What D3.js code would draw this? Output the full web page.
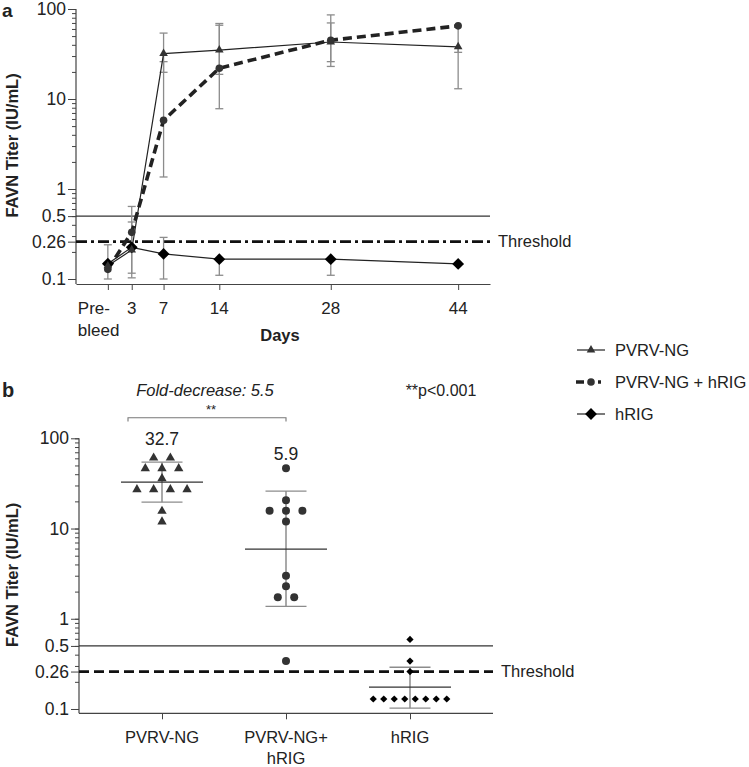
<!DOCTYPE html>
<html>
<head>
<meta charset="utf-8" />
<title>FAVN titers</title>
<script src="https://cdn.jsdelivr.net/npm/d3@7/dist/d3.min.js"></script>
<style>
	body { margin: 0; background: #fff; }
	svg text { font-family: "Liberation Sans", Arial, sans-serif; fill: #222; }
</style>
</head>
<body>
<div id="chart"></div>
<script>

// ---- panel a : kinetics ----
const days = [0, 3, 7, 14, 28, 44];
const dayLabels = [["Pre-", "bleed"], ["3"], ["7"], ["14"], ["28"], ["44"]];

const pvrvMean = [0.14, 0.21, 32, 35, 43, 38];
const pvrvLow  = [null, 0.103, 19.8, 18.8, 23, 13];
const pvrvHigh = [null, 0.43, 54, 69, 70, null];

const comboMean = [0.128, 0.33, 5.8, 22, 45, 65];
const comboLow  = [null, 0.116, 1.36, 7.8, 26, 33];
const comboHigh = [null, 0.64, 26, 66, 86, null];

const hrigMean = [0.148, 0.225, 0.19, 0.166, 0.166, 0.147];
const hrigLow  = [0.1, null, 0.1, 0.11, 0.11, null];
const hrigHigh = [0.24, null, 0.29, null, null, null];

const yLabelTicks = [0.1, 0.26, 0.5, 1, 10, 100];
const threshold = 0.26;
const protective = 0.5;

const legendNames = ["PVRV-NG", "PVRV-NG + hRIG", "hRIG"];

// ---- panel b : day 7 individual titers ----
const groups = ["PVRV-NG", "PVRV-NG+hRIG", "hRIG"];
const groupLabels = [["PVRV-NG"], ["PVRV-NG+", "hRIG"], ["hRIG"]];
const pvrvPoints = [60.7, 60.7, 46.3, 46.3, 46.3, 35.9, 27.1, 27.1, 27.1, 27.1, 15.6, 11.9];
const comboPoints = [46.7, 20.6, 15.7, 15.7, 15.7, 12.0, 3.0, 2.29, 1.73, 1.73, 0.34];
const hrigPoints = [0.59, 0.34, 0.26, 0.129, 0.129, 0.129, 0.129, 0.129, 0.129, 0.129, 0.129];
const groupMeans = [32.7, 5.9, 0.175];
const groupLow = [19.6, 1.37, 0.102];
const groupHigh = [54.4, 26, 0.29];
const meanLabels = ["32.7", "5.9", ""];

const W = 749, H = 767;
const svg = d3.select("#chart").append("svg")
	.attr("width", W).attr("height", H);

const axisColor = "#444";
const errColor = "#8c8c8c";
const markColor = "#333";

// symbol helpers
const tri = s => d3.symbol().type(d3.symbolTriangle).size(s)();
const sq = s => d3.symbol().type(d3.symbolSquare).size(s)();

function drawLogAxis(g, y, x0, labelX) {
	// minor ticks
	let minor = y.ticks().filter(v => v >= 0.0999);
	g.append("g")
		.attr("transform", `translate(${x0},0)`)
		.call(d3.axisLeft(y).tickValues(minor).tickFormat("").tickSize(4).tickSizeOuter(0))
		.call(a => a.select(".domain").remove())
		.call(a => a.selectAll("line").attr("stroke", axisColor));
	g.append("g")
		.attr("transform", `translate(${x0},0)`)
		.call(d3.axisLeft(y).tickValues(yLabelTicks).tickFormat(d => d).tickSize(8).tickPadding(2).tickSizeOuter(0))
		.call(a => a.select(".domain").remove())
		.call(a => a.selectAll("line").attr("stroke", axisColor))
		.call(a => a.selectAll("text").style("font-size", "17.5px").attr("fill", "#222"));
	let r = y.range();
	g.append("line")
		.attr("x1", x0).attr("x2", x0)
		.attr("y1", r[1]).attr("y2", r[0])
		.attr("stroke", axisColor).attr("stroke-width", 1.2);
	g.append("text")
		.attr("transform", `translate(${labelX},${(r[0] + r[1]) / 2 - 1}) rotate(-90)`)
		.attr("text-anchor", "middle")
		.attr("dy", "0.35em")
		.style("font-size", "16.5px")
		.style("font-weight", "bold")
		.text("FAVN Titer (IU/mL)");
}

function refLines(g, y, x1, x2, dash) {
	g.append("line")
		.attr("x1", x1).attr("x2", x2)
		.attr("y1", y(protective)).attr("y2", y(protective))
		.attr("stroke", "#333").attr("stroke-width", 1.3);
	g.append("line")
		.attr("x1", x1).attr("x2", x2)
		.attr("y1", y(threshold)).attr("y2", y(threshold))
		.attr("stroke", "#111").attr("stroke-width", 2.8)
		.attr("stroke-dasharray", dash);
	g.append("text")
		.attr("x", x2 + 8).attr("y", y(threshold))
		.attr("dy", "0.35em")
		.style("font-size", "16.5px")
		.text("Threshold");
}

// =================== panel a ===================
const ga = svg.append("g");
const xa = d3.scaleLinear().domain([-4, 48]).range([76, 490]);
const ya = d3.scaleLog().domain([0.088, 100]).range([284, 9]);

ga.append("text").attr("x", 2).attr("y", 17)
	.style("font-size", "19px").style("font-weight", "bold").text("a");

drawLogAxis(ga, ya, 76, 12);

// x axis
ga.append("g")
	.attr("transform", "translate(0,284)")
	.call(d3.axisBottom(xa).tickValues(days).tickFormat("").tickSize(6).tickSizeOuter(0))
	.call(a => a.select(".domain").attr("stroke", axisColor).attr("stroke-width", 1.2))
	.call(a => a.selectAll("line").attr("stroke", axisColor));

days.forEach((d, i) => {
	let lines = dayLabels[i];
	let t = ga.append("text")
		.attr("x", lines.length > 1 ? xa(d) - 30 : xa(d))
		.attr("y", 314)
		.attr("text-anchor", lines.length > 1 ? "start" : "middle")
		.style("font-size", "17px");
	lines.forEach((l, j) => {
		t.append("tspan").attr("x", lines.length > 1 ? xa(d) - 30 : xa(d))
			.attr("dy", j === 0 ? 0 : 22).text(l);
	});
});
ga.append("text").attr("x", 280).attr("y", 341)
	.attr("text-anchor", "middle")
	.style("font-size", "16.5px").style("font-weight", "bold").text("Days");

refLines(ga, ya, 76, 490, "11,4,3,4");

// error bars
function errBars(g, mean, low, high) {
	days.forEach((d, i) => {
		let lo = low[i] == null ? mean[i] : low[i];
		let hi = high[i] == null ? mean[i] : high[i];
		if (lo === hi) return;
		g.append("line")
			.attr("x1", xa(d)).attr("x2", xa(d))
			.attr("y1", ya(lo)).attr("y2", ya(hi))
			.attr("stroke", errColor).attr("stroke-width", 1.3);
		[low[i], high[i]].forEach(v => {
			if (v == null) return;
			g.append("line")
				.attr("x1", xa(d) - 4).attr("x2", xa(d) + 4)
				.attr("y1", ya(v)).attr("y2", ya(v))
				.attr("stroke", errColor).attr("stroke-width", 1.3);
		});
	});
}
errBars(ga, pvrvMean, pvrvLow, pvrvHigh);
errBars(ga, comboMean, comboLow, comboHigh);
errBars(ga, hrigMean, hrigLow, hrigHigh);

const lineA = vals => d3.line()
	.x((d, i) => xa(days[i]))
	.y(d => ya(d))(vals);

ga.append("path").attr("d", lineA(hrigMean))
	.attr("fill", "none").attr("stroke", "#222").attr("stroke-width", 1.2);
ga.append("path").attr("d", lineA(pvrvMean))
	.attr("fill", "none").attr("stroke", "#222").attr("stroke-width", 1.2);
ga.append("path").attr("d", lineA(comboMean))
	.attr("fill", "none").attr("stroke", "#222").attr("stroke-width", 3.6)
	.attr("stroke-dasharray", "9,5");

ga.selectAll(".dia").data(hrigMean).enter().append("path")
	.attr("d", sq(70))
	.attr("transform", (d, i) => `translate(${xa(days[i])},${ya(d)}) rotate(45)`)
	.attr("fill", "#000");
ga.selectAll(".circ").data(comboMean).enter().append("circle")
	.attr("cx", (d, i) => xa(days[i])).attr("cy", d => ya(d))
	.attr("r", 3.8).attr("fill", markColor);
ga.selectAll(".tri").data(pvrvMean).enter().append("path")
	.attr("d", tri(32))
	.attr("transform", (d, i) => `translate(${xa(days[i])},${ya(d)})`)
	.attr("fill", markColor);

// =================== legend ===================
const lg = svg.append("g");
const legY = [350, 382, 414];
lg.append("line").attr("x1", 577).attr("x2", 605).attr("y1", legY[0]).attr("y2", legY[0])
	.attr("stroke", "#222").attr("stroke-width", 1.2);
lg.append("path").attr("d", tri(32)).attr("transform", `translate(591,${legY[0]})`).attr("fill", markColor);
lg.append("line").attr("x1", 576).attr("x2", 605).attr("y1", legY[1]).attr("y2", legY[1])
	.attr("stroke", "#222").attr("stroke-width", 3.6).attr("stroke-dasharray", "8,14,3,10");
lg.append("circle").attr("cx", 591).attr("cy", legY[1]).attr("r", 3.8).attr("fill", markColor);
lg.append("line").attr("x1", 577).attr("x2", 605).attr("y1", legY[2]).attr("y2", legY[2])
	.attr("stroke", "#222").attr("stroke-width", 1.2);
lg.append("path").attr("d", sq(70)).attr("transform", `translate(591,${legY[2]}) rotate(45)`).attr("fill", "#000");
legendNames.forEach((n, i) => {
	lg.append("text").attr("x", 615).attr("y", legY[i]).attr("dy", "0.35em")
		.style("font-size", "16.5px").text(n);
});

// =================== panel b ===================
const gb = svg.append("g");
const xb = d3.scalePoint().domain(groups).range([162, 410]);
const yb = d3.scaleLog().domain([0.0896, 100]).range([713.3, 438.3]);

gb.append("text").attr("x", 2).attr("y", 397)
	.style("font-size", "20px").style("font-weight", "bold").text("b");

drawLogAxis(gb, yb, 79, 12);

gb.append("line").attr("x1", 79).attr("x2", 493).attr("y1", 713.3).attr("y2", 713.3)
	.attr("stroke", axisColor).attr("stroke-width", 1.2);
gb.append("g")
	.attr("transform", "translate(0,713.3)")
	.call(d3.axisBottom(xb).tickFormat("").tickSize(6).tickSizeOuter(0))
	.call(a => a.select(".domain").remove())
	.call(a => a.selectAll("line").attr("stroke", axisColor));

groups.forEach((g, i) => {
	let t = gb.append("text").attr("x", xb(g)).attr("y", 743)
		.attr("text-anchor", "middle").style("font-size", "16.5px");
	groupLabels[i].forEach((l, j) => {
		t.append("tspan").attr("x", xb(g)).attr("dy", j === 0 ? 0 : 21).text(l);
	});
});

refLines(gb, yb, 79, 493, "10,5");

// annotations
gb.append("text").attr("x", 205).attr("y", 396).attr("text-anchor", "middle")
	.style("font-size", "16.5px").style("font-style", "italic").text("Fold-decrease: 5.5");
gb.append("text").attr("x", 441).attr("y", 396).attr("text-anchor", "middle")
	.style("font-size", "16px").text("**p<0.001");
gb.append("text").attr("x", 211).attr("y", 414).attr("text-anchor", "middle")
	.style("font-size", "13px").text("**");
gb.append("path")
	.attr("d", `M${xb(groups[0]) - 34},421.5V417.7H${xb(groups[1])}V421.5`)
	.attr("fill", "none").attr("stroke", "#777").attr("stroke-width", 1.1);

// mean +/- error
groups.forEach((g, i) => {
	let cx = xb(g);
	gb.append("line").attr("x1", cx).attr("x2", cx)
		.attr("y1", yb(groupLow[i])).attr("y2", yb(groupHigh[i]))
		.attr("stroke", errColor).attr("stroke-width", 1.5);
	[groupLow[i], groupHigh[i]].forEach(v => {
		gb.append("line").attr("x1", cx - 20.5).attr("x2", cx + 20.5)
			.attr("y1", yb(v)).attr("y2", yb(v))
			.attr("stroke", errColor).attr("stroke-width", 1.3);
	});
	gb.append("line").attr("x1", cx - 41).attr("x2", cx + 41)
		.attr("y1", yb(groupMeans[i])).attr("y2", yb(groupMeans[i]))
		.attr("stroke", "#333").attr("stroke-width", 1.3);
	if (meanLabels[i]) {
		gb.append("text").attr("x", cx).attr("y", yb(groupHigh[0]) - 17 + (i ? 15 : 0))
			.attr("text-anchor", "middle").style("font-size", "17.5px").text(meanLabels[i]);
	}
});

// spread identical values side by side
function swarm(vals, spacing) {
	let counts = d3.rollup(vals, v => v.length, d => d);
	let seen = new Map();
	return vals.map(v => {
		let n = counts.get(v), k = seen.get(v) || 0;
		seen.set(v, k + 1);
		return { v: v, dx: (k - (n - 1) / 2) * spacing };
	});
}

gb.selectAll(".btri").data(swarm(pvrvPoints, 16.7)).enter().append("path")
	.attr("d", tri(38))
	.attr("transform", d => `translate(${xb(groups[0]) + d.dx},${yb(d.v)})`)
	.attr("fill", markColor);
gb.selectAll(".bcirc").data(swarm(comboPoints, 16.4)).enter().append("circle")
	.attr("cx", d => xb(groups[1]) + d.dx).attr("cy", d => yb(d.v))
	.attr("r", 4).attr("fill", markColor);
gb.selectAll(".bdia").data(swarm(hrigPoints, 10.5)).enter().append("path")
	.attr("d", sq(26))
	.attr("transform", d => `translate(${xb(groups[2]) + d.dx},${yb(d.v)}) rotate(45)`)
	.attr("fill", "#000");

</script>
</body>
</html>
